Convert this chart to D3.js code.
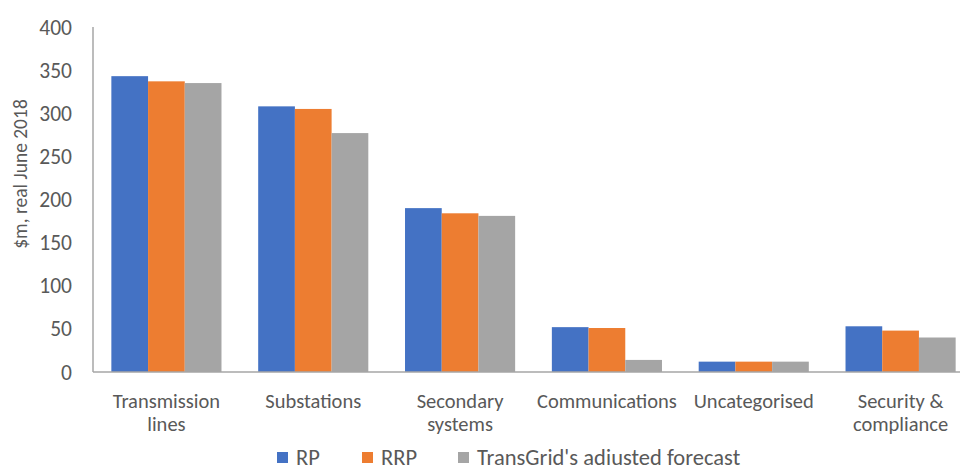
<!DOCTYPE html>
<html>
<head>
<meta charset="utf-8">
<script src="https://cdn.jsdelivr.net/npm/d3@7"></script>
<style>
  body { margin: 0; background: #fff; }
  text { font-family: Carlito, "Liberation Sans Narrow", Lato, sans-serif; fill: #595959; }
</style>
</head>
<body>
<div id="chart"></div>
<script>
// categories and series (values in $m, real June 2018)
const categories = [["Transmission", "lines"], ["Substations"], ["Secondary", "systems"], ["Communications"], ["Uncategorised"], ["Security &", "compliance"]];
const seriesNames = ["RP", "RRP", "TransGrid's adjusted forecast"];
const rp = [343, 308, 190, 52, 12, 53];
const rrp = [337, 305, 184, 51, 12, 48];
const adjusted = [335, 277, 181, 14, 12, 40];
const yTicks = [0, 50, 100, 150, 200, 250, 300, 350, 400];
const colors = ["#4472C4", "#ED7D31", "#A5A5A5"];

const width = 960, height = 465;
const margin = { top: 27, left: 93, bottom: 93 };

const svg = d3.select("#chart").append("svg")
  .attr("width", width)
  .attr("height", height);

const x = d3.scaleBand()
  .domain(d3.range(categories.length))
  .range([margin.left, margin.left + 881])
  .paddingInner(0.25)
  .paddingOuter(0.125);

const x1 = d3.scaleBand()
  .domain(d3.range(seriesNames.length))
  .range([0, x.bandwidth()]);

const y = d3.scaleLinear()
  .domain([0, 400])
  .range([height - margin.bottom, margin.top]);

// bars
const series = [rp, rrp, adjusted];
series.forEach((vals, s) => {
  svg.append("g").selectAll("rect")
    .data(vals)
    .join("rect")
    .attr("x", (d, i) => x(i) + x1(s))
    .attr("y", d => y(d))
    .attr("width", x1.bandwidth())
    .attr("height", d => y(0) - y(d))
    .attr("fill", colors[s]);
});

// y axis line
svg.append("line")
  .attr("x1", margin.left).attr("x2", margin.left)
  .attr("y1", y(400)).attr("y2", y(0))
  .attr("stroke", "#a6a6a6").attr("stroke-width", 1.5);

// x axis line
svg.append("line")
  .attr("x1", margin.left).attr("x2", width)
  .attr("y1", y(0)).attr("y2", y(0))
  .attr("stroke", "#a6a6a6").attr("stroke-width", 1.5);

// y tick labels
svg.append("g").selectAll("text")
  .data(yTicks)
  .join("text")
  .attr("x", 72)
  .attr("y", d => y(d))
  .attr("dy", "0.35em")
  .attr("text-anchor", "end")
  .style("font-size", "21.5px")
  .text(d => d);

// y axis title
svg.append("text")
  .attr("transform", "translate(27,174) rotate(-90)")
  .attr("text-anchor", "middle")
  .style("font-size", "19.5px")
  .text("$m, real June 2018");

// category labels
const labels = svg.append("g").selectAll("text")
  .data(categories)
  .join("text")
  .attr("x", (d, i) => x(i) + x.bandwidth() / 2)
  .attr("y", 408)
  .attr("text-anchor", "middle")
  .style("font-size", "20.5px");
labels.selectAll("tspan")
  .data(d => d)
  .join("tspan")
  .attr("x", function () { return this.parentNode.getAttribute("x"); })
  .attr("dy", (d, j) => j === 0 ? 0 : 23)
  .text(d => d);

// legend
const legendX = [277, 362, 458];
const legend = svg.append("g");
seriesNames.forEach((name, i) => {
  legend.append("rect")
    .attr("x", legendX[i]).attr("y", 452)
    .attr("width", 11).attr("height", 11)
    .attr("fill", colors[i]);
  legend.append("text")
    .attr("x", legendX[i] + 19).attr("y", 465)
    .style("font-size", "22.5px")
    .text(name);
});
</script>
</body>
</html>
